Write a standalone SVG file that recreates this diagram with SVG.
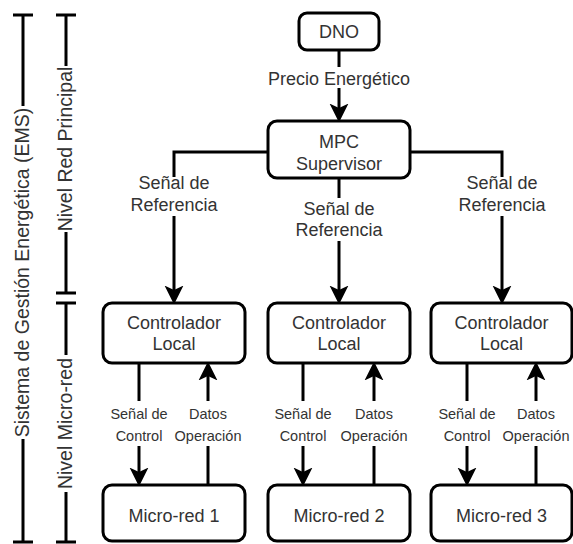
<svg xmlns="http://www.w3.org/2000/svg" width="573" height="544" viewBox="0 0 573 544">
  <style>
    .box { fill: #ffffff; stroke: #000000; stroke-width: 3; }
    .edge { fill: none; stroke: #000000; stroke-width: 3; }
    .bar { fill: none; stroke: #000000; stroke-width: 3; }
    .lbl { font-family: "Liberation Sans", Arial, sans-serif; font-size: 18px; fill: #333333; text-anchor: middle; }
    .sm { font-size: 14.5px; }
    .side { font-family: "Liberation Sans", Arial, sans-serif; font-size: 19.5px; fill: #333333; text-anchor: middle; }
    .bg { fill: #ffffff; }
  </style>
  <defs>
    <marker id="arrow" markerUnits="userSpaceOnUse" markerWidth="20" markerHeight="20" viewBox="0 -9 18 18" refX="4" refY="0" orient="auto">
      <path d="M0,-8.5 L17,0 L0,8.5 L4,0 Z" fill="#000000"/>
    </marker>
  </defs>
  <rect width="573" height="544" fill="#ffffff"/>

  <!-- level brackets -->
  <g id="ems-bracket">
    <path class="bar" d="M23,15 V106 M23,439 V542 M13,15 H33 M13,542 H33"/>
    <text class="side" transform="translate(29,272.5) rotate(-90)">Sistema de Gestión Energética (EMS)</text>
  </g>
  <g id="main-level-bracket">
    <path class="bar" d="M66,15 V66 M66,232 V293 M56,15 H76 M56,293 H76"/>
    <text class="side" transform="translate(72,149) rotate(-90)">Nivel Red Principal</text>
  </g>
  <g id="micro-level-bracket">
    <path class="bar" d="M66,303 V355 M66,492 V542 M56,303 H76 M56,542 H76"/>
    <text class="side" transform="translate(72,423.5) rotate(-90)">Nivel Micro-red</text>
  </g>

  <!-- connectors -->
  <g id="connectors">
    <path class="edge" d="M339,50 V108" marker-end="url(#arrow)"/>
    <path class="edge" d="M268,152 H174 V290" marker-end="url(#arrow)"/>
    <path class="edge" d="M339,178 V290" marker-end="url(#arrow)"/>
    <path class="edge" d="M410,152 H502 V290" marker-end="url(#arrow)"/>

    <path class="edge" d="M139,363 V472" marker-end="url(#arrow)"/>
    <path class="edge" d="M208,485 V376" marker-end="url(#arrow)"/>
    <path class="edge" d="M303,363 V472" marker-end="url(#arrow)"/>
    <path class="edge" d="M374,485 V376" marker-end="url(#arrow)"/>
    <path class="edge" d="M467,363 V472" marker-end="url(#arrow)"/>
    <path class="edge" d="M536,485 V376" marker-end="url(#arrow)"/>

    <!-- edge labels -->
    <rect class="bg" x="263" y="67" width="152" height="21"/>
    <text class="lbl" x="339" y="85">Precio Energético</text>

    <rect class="bg" x="132" y="177" width="84" height="39"/>
    <text class="lbl" x="174" y="189">Señal de</text>
    <text class="lbl" x="174" y="211">Referencia</text>

    <rect class="bg" x="297" y="198" width="84" height="43"/>
    <text class="lbl" x="339" y="215">Señal de</text>
    <text class="lbl" x="339" y="236">Referencia</text>

    <rect class="bg" x="460" y="177" width="84" height="39"/>
    <text class="lbl" x="502" y="189">Señal de</text>
    <text class="lbl" x="502" y="211">Referencia</text>

    <rect class="bg" x="110" y="401" width="58" height="45"/>
    <text class="lbl sm" x="139" y="419">Señal de</text>
    <text class="lbl sm" x="139" y="441">Control</text>
    <rect class="bg" x="174" y="401" width="68" height="45"/>
    <text class="lbl sm" x="208" y="419">Datos</text>
    <text class="lbl sm" x="208" y="441">Operación</text>

    <rect class="bg" x="274" y="401" width="58" height="45"/>
    <text class="lbl sm" x="303" y="419">Señal de</text>
    <text class="lbl sm" x="303" y="441">Control</text>
    <rect class="bg" x="340" y="401" width="68" height="45"/>
    <text class="lbl sm" x="374" y="419">Datos</text>
    <text class="lbl sm" x="374" y="441">Operación</text>

    <rect class="bg" x="438" y="401" width="58" height="45"/>
    <text class="lbl sm" x="467" y="419">Señal de</text>
    <text class="lbl sm" x="467" y="441">Control</text>
    <rect class="bg" x="502" y="401" width="68" height="45"/>
    <text class="lbl sm" x="536" y="419">Datos</text>
    <text class="lbl sm" x="536" y="441">Operación</text>
  </g>

  <!-- nodes -->
  <g id="dno">
    <rect class="box" x="299" y="13" width="80" height="37" rx="8"/>
    <text class="lbl" x="339" y="38">DNO</text>
  </g>
  <g id="mpc-supervisor">
    <rect class="box" x="268" y="121" width="142" height="57" rx="9"/>
    <text class="lbl" x="339" y="148">MPC</text>
    <text class="lbl" x="339" y="169.5">Supervisor</text>
  </g>

  <g id="controller-1">
    <rect class="box" x="103" y="303" width="142" height="60" rx="9"/>
    <text class="lbl" x="174" y="329">Controlador</text>
    <text class="lbl" x="174" y="350">Local</text>
  </g>
  <g id="controller-2">
    <rect class="box" x="268" y="303" width="142" height="60" rx="9"/>
    <text class="lbl" x="339" y="329">Controlador</text>
    <text class="lbl" x="339" y="350">Local</text>
  </g>
  <g id="controller-3">
    <rect class="box" x="431" y="303" width="141" height="60" rx="9"/>
    <text class="lbl" x="501.5" y="329">Controlador</text>
    <text class="lbl" x="501.5" y="350">Local</text>
  </g>

  <g id="microgrid-1">
    <rect class="box" x="103" y="485" width="142" height="56" rx="9"/>
    <text class="lbl" x="174" y="522">Micro-red 1</text>
  </g>
  <g id="microgrid-2">
    <rect class="box" x="268" y="485" width="142" height="56" rx="9"/>
    <text class="lbl" x="339" y="522">Micro-red 2</text>
  </g>
  <g id="microgrid-3">
    <rect class="box" x="431" y="485" width="141" height="56" rx="9"/>
    <text class="lbl" x="501.5" y="522">Micro-red 3</text>
  </g>
</svg>
